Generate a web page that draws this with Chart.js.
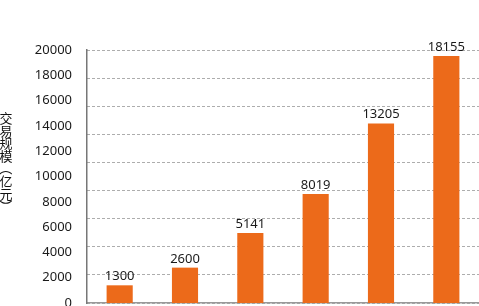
<!DOCTYPE html>
<html>
<head>
<meta charset="utf-8">
<script src="https://cdn.jsdelivr.net/npm/chart.js@4/dist/chart.umd.min.js"></script>
<style>
html,body{margin:0;padding:0;background:#fff;overflow:hidden;}
#wrap{width:479px;height:306px;position:relative;}
</style>
</head>
<body>
<div id="wrap"><canvas id="c"></canvas></div>
<script>
const categories = ['1', '2', '3', '4', '5', '6'];
const values = [1300, 2600, 5141, 8019, 13205, 18155];
const yTicks = [0, 2000, 4000, 6000, 8000, 10000, 12000, 14000, 16000, 18000, 20000];
const yTitle = '交易规模（亿元）';

const FONT = '"Noto Sans", "Noto Sans CJK SC", sans-serif';

const labelPlugin = {
  id: 'barLabels',
  afterDatasetsDraw(chart) {
    const ctx = chart.ctx;
    const meta = chart.getDatasetMeta(0);
    ctx.save();
    ctx.font = '13px ' + FONT;
    ctx.fillStyle = '#1a1a1a';
    ctx.textAlign = 'center';
    ctx.textBaseline = 'alphabetic';
    meta.data.forEach((el, i) => {
      ctx.fillText(String(values[i]), el.x, el.y - 5);
    });
    ctx.restore();
  }
};

const titlePlugin = {
  id: 'vTitle',
  afterDraw(chart) {
    const ctx = chart.ctx;
    ctx.save();
    ctx.font = '13px "Noto Sans CJK SC", sans-serif';
    ctx.fillStyle = '#111';
    ctx.textAlign = 'center';
    ctx.textBaseline = 'middle';
    const chars = Array.from(yTitle);
    let y = 118;
    chars.forEach(ch => {
      if (ch === '（' || ch === '）') {
        ctx.save();
        ctx.translate(6, y);
        ctx.rotate(Math.PI / 2);
        ctx.fillText(ch, 0, 0);
        ctx.restore();
      } else {
        ctx.fillText(ch, 6, y);
      }
      y += 12.6;
    });
    ctx.restore();
  }
};

new Chart(document.getElementById('c'), {
  type: 'bar',
  data: {
    labels: categories,
    datasets: [{
      data: values,
      yAxisID: 'yBar',
      backgroundColor: '#EC6A1A',
      borderWidth: 0,
      barPercentage: 0.4,
      categoryPercentage: 1.0
    }]
  },
  options: {
    responsive: true,
    maintainAspectRatio: false,
    animation: false,
    layout: { padding: { top: 50, bottom: 3, left: 0, right: 0 } },
    plugins: { legend: { display: false }, tooltip: { enabled: false } },
    scales: {
      x: {
        offset: true,
        grid: { display: false, drawTicks: false },
        border: { display: true, color: '#999', width: 1.5 },
        ticks: { display: false }
      },
      y: {
        position: 'left',
        min: 0,
        max: 20000,
        afterBuildTicks: s => { s.ticks = yTicks.map(v => ({ value: v })); },
        afterFit: s => { s.width = 87; },
        grid: { display: true, drawOnChartArea: false, drawTicks: true, tickLength: 15, color: 'rgba(0,0,0,0)' },
        border: { display: true, color: '#777', width: 1.5 },
        ticks: { font: { size: 13, family: FONT, lineHeight: 0.4 }, color: '#1a1a1a', padding: 0, callback: v => String(v) }
      },
      yBar: {
        display: false,
        min: 0,
        max: 18600
      },
      yGrid: {
        position: 'right',
        min: 0,
        max: 9,
        ticks: { display: false, stepSize: 1 },
        border: { display: false, dash: [3, 2] },
        grid: { color: '#adadad', lineWidth: 1, drawTicks: false },
        afterFit: s => { s.width = 0; }
      }
    }
  },
  plugins: [labelPlugin, titlePlugin]
});
</script>
</body>
</html>
